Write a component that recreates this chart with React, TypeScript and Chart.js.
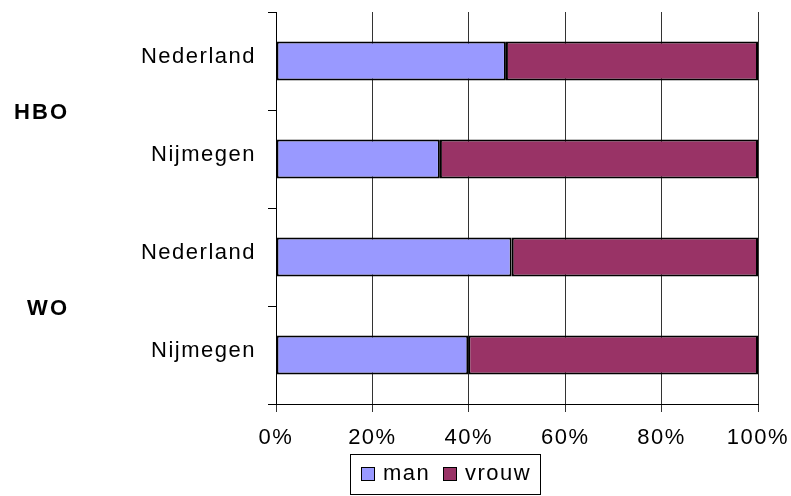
import React, { useEffect, useRef } from "react";
import { Chart, registerables } from "chart.js";

Chart.register(...registerables);

const categories = ["Nederland", "Nijmegen", "Nederland", "Nijmegen"];
const groups = ["HBO", "WO"];
const manValues = [47.7, 34.0, 48.9, 39.9];
const vrouwValues = [52.3, 66.0, 51.1, 60.1];
const seriesNames = ["man", "vrouw"];
const seriesColors = ["#9999FF", "#993366"];

const FONT = "'Liberation Sans', Arial, sans-serif";

const spacingPlugin = {
  id: "spacing",
  beforeDraw(chart: any) {
    (chart.ctx as any).letterSpacing = "1.5px";
  },
  afterDraw(chart: any) {
    const ctx = chart.ctx;
    const y = chart.scales.y;
    ctx.save();
    (ctx as any).letterSpacing = "2px";
    ctx.font = `bold 22px ${FONT}`;
    ctx.fillStyle = "#000";
    ctx.textAlign = "right";
    ctx.textBaseline = "middle";
    groups.forEach((g, i) => {
      const py = y.getPixelForValue(i * 2 + 0.5);
      ctx.fillText(g, 69, py + 3);
    });
    // legend
    (ctx as any).letterSpacing = "1.5px";
    ctx.strokeStyle = "#000";
    ctx.lineWidth = 1;
    ctx.strokeRect(350.5, 454.5, 190, 40);
    ctx.font = `22px ${FONT}`;
    ctx.textAlign = "left";
    const items = chart.data.datasets;
    const xs = [361, 443];
    items.forEach((ds: any, i: number) => {
      ctx.fillStyle = ds.backgroundColor;
      ctx.fillRect(xs[i] + 0.5, 467.5, 13, 13);
      ctx.strokeRect(xs[i] + 0.5, 467.5, 13, 13);
      ctx.fillStyle = "#000";
      ctx.fillText(ds.label, xs[i] + 22, 474);
    });
    ctx.restore();
  },
};

export default function App() {
  const ref = useRef<HTMLCanvasElement>(null);
  useEffect(() => {
    if (!ref.current) return;
    const chart = new Chart(ref.current, {
      type: "bar",
      data: {
        labels: categories,
        datasets: [
          {
            label: seriesNames[0],
            data: manValues,
            backgroundColor: seriesColors[0],
            borderColor: "#000",
            borderWidth: 2,
            borderSkipped: false,
            categoryPercentage: 1,
            barPercentage: 0.4,
          },
          {
            label: seriesNames[1],
            data: vrouwValues,
            backgroundColor: seriesColors[1],
            borderColor: "#000",
            borderWidth: 2,
            borderSkipped: false,
            categoryPercentage: 1,
            barPercentage: 0.4,
          },
        ],
      },
      options: {
        indexAxis: "y",
        animation: false,
        responsive: true,
        maintainAspectRatio: false,
        layout: { padding: { top: 12, right: 33, left: 0, bottom: 0 } },
        plugins: { legend: { display: false }, tooltip: { enabled: false } },
        scales: {
          x: {
            stacked: true,
            min: 0,
            max: 100,
            afterFit: (s: any) => {
              s.height = 92;
              s.paddingLeft = 0;
              s.paddingRight = 0;
              s.paddingTop = 0;
              s.paddingBottom = 0;
            },
            ticks: {
              stepSize: 20,
              callback: (v: any) => v + "%",
              color: "#000",
              font: { size: 22, family: FONT },
              padding: 13,
              maxRotation: 0,
            },
            grid: { color: "#333", lineWidth: 1, tickLength: 8, drawTicks: true },
            border: { display: true, color: "#000", width: 1 },
          },
          y: {
            stacked: true,
            afterFit: (s: any) => {
              s.width = 276;
              s.paddingLeft = 0;
              s.paddingRight = 0;
              s.paddingTop = 0;
              s.paddingBottom = 0;
            },
            ticks: {
              color: "#000",
              font: { size: 22, family: FONT },
              padding: 12,
              labelOffset: -4,
            },
            grid: {
              drawOnChartArea: false,
              offset: true,
              color: "#000",
              tickLength: 8,
            },
            border: { display: true, color: "#000", width: 1 },
          },
        },
      },
      plugins: [spacingPlugin],
    });
    return () => chart.destroy();
  }, []);
  return (
    <div style={{ position: "fixed", left: 0, top: 0, width: 791, height: 496, background: "#fff" }}>
      <canvas ref={ref} />
    </div>
  );
}
